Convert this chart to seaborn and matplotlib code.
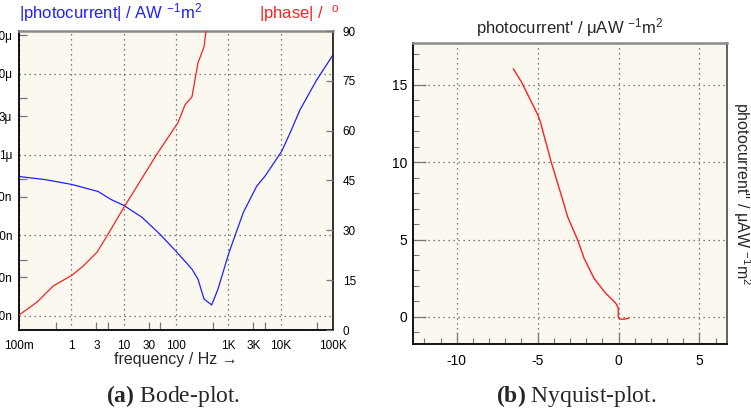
import numpy as np
import pandas as pd
import matplotlib
matplotlib.use("Agg")
import matplotlib.pyplot as plt
import seaborn as sns

# Bode plot: |photocurrent| in A/W m^2 vs frequency in Hz
mag_freq = [0.1, 0.314, 1.03, 3.24, 5.7, 10, 22.4, 49.4, 100, 202, 263, 343,
            481, 635, 1030, 1930, 3480, 5020, 10470, 15100, 23440, 48870, 100000]
mag_micro = [0.535, 0.49, 0.426, 0.349, 0.278, 0.235, 0.167, 0.103, 0.0634,
             0.038, 0.0286, 0.0162, 0.0137, 0.0216, 0.0611, 0.191, 0.406, 0.54,
             1.10, 1.85, 3.59, 8.43, 17.2]
mag_val = [v * 1e-6 for v in mag_micro]

# |phase| in degrees
phase_freq = [0.1, 0.221, 0.447, 1.03, 1.67, 3.09, 5.02, 10.1, 43.4, 109, 149,
              202, 263, 343, 374, 390]
phase_deg = [4.5, 8.4, 13.2, 16.5, 19.2, 23.4, 28.8, 36.9, 53.0, 62.4, 67.8,
             70.2, 80.4, 85.2, 89.9, 93.0]

# Nyquist plot (µA/W m^2)
nyq_re = [-6.5, -6.01, -4.99, -4.83, -4.17, -3.45, -3.15, -2.53, -2.13, -1.52,
          -0.80, -0.18, -0.02, -0.02, 0.06, 0.33, 0.63]
nyq_im = [16.03, 15.2, 13.06, 12.6, 10.04, 7.56, 6.48, 4.98, 3.79, 2.50,
          1.53, 0.90, 0.58, 0.02, -0.13, -0.15, -0.08]

freq_major = [0.1, 1, 10, 100, 1e3, 1e4, 1e5]
freq_major_labels = ["100m", "1", "10", "100", "1K", "10K", "100K"]
freq_minor = [0.5, 3, 5, 30, 50, 500, 3e3, 5e3, 5e4]
freq_minor_labels = ["", "3", "", "30", "", "", "3K", "", ""]
mag_major = [1e-8, 1e-7, 1e-6, 1e-5]
mag_major_labels = ["10n", "100n", "1\u03bc", "10\u03bc"]
mag_minor = [3e-8, 5e-8, 3e-7, 5e-7, 3e-6, 5e-6, 3e-5]
mag_minor_labels = ["30n", "", "300n", "", "3\u03bc", "", "30\u03bc"]

sns.set_style("ticks", rc={"axes.facecolor": "#faf8ef"})
plt.rcParams["font.family"] = ["Liberation Sans", "DejaVu Sans"]
plt.rcParams["axes.unicode_minus"] = False
plt.rcParams["mathtext.fontset"] = "custom"
plt.rcParams["mathtext.rm"] = "Liberation Sans"
plt.rcParams["mathtext.it"] = "Liberation Sans:italic"
plt.rcParams["mathtext.bf"] = "Liberation Serif:bold"

BLUE = "#2020ff"
RED = "#ff2020"
GRID = dict(color="#555555", linestyle=(0, (1, 3)), linewidth=0.9)

fig = plt.figure(figsize=(7.51, 4.19), dpi=100)
ax = fig.add_axes([19 / 751, 1 - 330 / 419, 314 / 751, 299 / 419])
axb = fig.add_axes([413 / 751, 1 - 344 / 419, 314 / 751, 301 / 419])

def style_frame(a, right_color):
    a.spines["left"].set_color("black")
    a.spines["bottom"].set_color("black")
    a.spines["left"].set_linewidth(1.3)
    a.spines["bottom"].set_linewidth(1.3)
    a.spines["top"].set_visible(True)
    a.spines["right"].set_visible(True)
    a.spines["top"].set_color("#8a8a8a")
    a.spines["top"].set_linewidth(1.8)
    a.spines["right"].set_color(right_color)
    a.spines["right"].set_linewidth(1.3)

# ---- (a) Bode plot ----
mag_df = pd.DataFrame({"freq": mag_freq, "mag": mag_val})
ax.set_xscale("log")
ax.set_yscale("log")
sns.lineplot(data=mag_df, x="freq", y="mag", ax=ax, color=BLUE, linewidth=0.9)
ax.set_xlim(0.1, 1e5)
ax.set_ylim(6.7e-9, 3.4e-5)
ax.set_xticks(freq_major, freq_major_labels)
ax.set_xticks(freq_minor, freq_minor_labels, minor=True)
ax.set_yticks(mag_major, mag_major_labels)
ax.set_yticks(mag_minor, mag_minor_labels, minor=True)
ax.tick_params(which="both", direction="in", labelsize=8.5, colors="#777777",
               labelcolor="black")
ax.tick_params(axis="x", which="both", pad=7.5)
ax.tick_params(axis="y", which="both", pad=5)
ax.tick_params(which="major", length=0)
ax.tick_params(which="minor", length=6, width=0.9)
ax.grid(True, which="major", **GRID)
ax.set_xlabel("frequency / Hz \u2192", fontsize=11.5, labelpad=0)
ax.set_ylabel("")
style_frame(ax, "#222222")
ax.text(0.0, 1.025, "|photocurrent| / AW $^{-1}$m$^2$", color=BLUE,
        fontsize=12, transform=ax.transAxes, ha="left", va="bottom")

ax2 = ax.twinx()
phase_df = pd.DataFrame({"freq": phase_freq, "phase": phase_deg})
sns.lineplot(data=phase_df, x="freq", y="phase", ax=ax2, color=RED, linewidth=0.9)
ax2.set_ylim(0, 90)
ax2.set_yticks(range(0, 91, 15))
ax2.set_ylabel("")
ax2.tick_params(axis="y", direction="in", length=5, width=0.9, colors="#777777",
                labelcolor="black", labelsize=8.5, pad=7)
for s in ax2.spines.values():
    s.set_visible(False)
ax2.text(1.02, 1.025, "|phase| /  $^{\\mathrm{o}}$", color=RED, fontsize=12,
         transform=ax.transAxes, ha="right", va="bottom")

# ---- (b) Nyquist plot ----
nyq_df = pd.DataFrame({"re": nyq_re, "im": nyq_im})
sns.lineplot(data=nyq_df, x="re", y="im", ax=axb, sort=False, estimator=None,
             color=RED, linewidth=1.0)
axb.set_xlim(-12.7, 6.7)
axb.set_ylim(-1.75, 17.7)
axb.set_xticks([-10, -5, 0, 5])
axb.set_yticks([0, 5, 10, 15])
axb.set_xticks(np.arange(-12, 7, 1), minor=True)
axb.set_yticks(np.arange(-1, 18, 1), minor=True)
axb.tick_params(which="both", direction="in", colors="#777777",
                labelcolor="black", labelsize=10)
axb.tick_params(axis="x", which="both", pad=7)
axb.tick_params(axis="y", which="both", pad=4)
axb.tick_params(which="major", length=9, width=0.9)
axb.tick_params(which="minor", length=4, width=0.8)
axb.grid(True, which="major", **GRID)
style_frame(axb, "#555555")
axb.set_xlabel("")
axb.set_title("photocurrent' / \u03bcAW $^{-1}$m$^2$", fontsize=12, pad=7)
axb.yaxis.set_label_position("right")
axb.set_ylabel("photocurrent'' / \u03bcAW $^{-1}$m$^2$", fontsize=11.5,
               rotation=-90, va="bottom", labelpad=3)

# captions
fig.text(173 / 751, 1 - 396 / 419, r"$\mathbf{(a)}$ Bode-plot.",
         family="Liberation Serif", fontsize=17, ha="center", va="center")
fig.text(576 / 751, 1 - 396 / 419, r"$\mathbf{(b)}$ Nyquist-plot.",
         family="Liberation Serif", fontsize=17, ha="center", va="center")

fig.savefig("out.png", dpi=100, facecolor="white")
